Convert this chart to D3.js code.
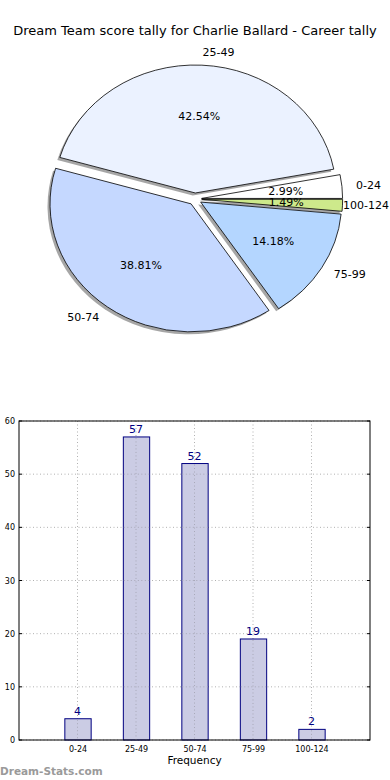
<!DOCTYPE html>
<html><head><meta charset="utf-8">
<script src="https://cdn.jsdelivr.net/npm/d3@7"></script>
<style>body{margin:0;background:#fff;}svg{display:block;font-family:"DejaVu Sans",sans-serif;}</style>
</head><body>
<svg id="c" width="390" height="780"></svg>
<script>
const categories = ["0-24","25-49","50-74","75-99","100-124"];
const counts = [4,57,52,19,2];
const sliceColors = ["#ffffff","#ebf2ff","#c5d8ff","#b4d6ff","#cde98b"];
const yTicks = [0,10,20,30,40,50,60];
const title = "Dream Team score tally for Charlie Ballard - Career tally";

const svg = d3.select("#c");
svg.append("text").attr("x",195).attr("y",35).attr("text-anchor","middle")
  .attr("font-size",13).text(title);

// ---- Pie ----
const cx=195, cy=199, rx=141, ry=128, explode=0.047;
const total=d3.sum(counts);
const pie=d3.pie().sort(null).startAngle(Math.PI/2).endAngle(Math.PI/2-2*Math.PI);
const arcs=pie(counts);
const arc=d3.arc().innerRadius(0).outerRadius(1);
const g=svg.append("g").attr("transform",`translate(${cx},${cy})`);
function mid(a){ const m=(a.startAngle+a.endAngle)/2; return Math.PI/2-m; }
arcs.forEach((a,i)=>{
  const t=mid(a), dx=explode*rx*Math.cos(t), dy=-explode*ry*Math.sin(t);
  g.append("path").attr("d",arc(a))
   .attr("transform",`translate(${dx-2.5},${dy+2.5}) scale(${rx},${ry})`)
   .attr("fill","#888").attr("opacity",0.75);
});
arcs.forEach((a,i)=>{
  const t=mid(a), dx=explode*rx*Math.cos(t), dy=-explode*ry*Math.sin(t);
  g.append("path").attr("d",arc(a))
   .attr("transform",`translate(${dx},${dy}) scale(${rx},${ry})`)
   .attr("fill",sliceColors[i]).attr("stroke","#000").attr("stroke-width",0.8)
   .attr("vector-effect","non-scaling-stroke");
});
arcs.forEach((a,i)=>{
  const t=mid(a), dx=explode*rx*Math.cos(t), dy=-explode*ry*Math.sin(t);
  const pct=(counts[i]/total*100).toFixed(2)+"%";
  g.append("text").attr("x",dx+0.6*rx*Math.cos(t)).attr("y",dy-0.6*ry*Math.sin(t))
   .attr("text-anchor","middle").attr("dominant-baseline","central").attr("font-size",11).text(pct);
  const lx=dx+1.1*rx*Math.cos(t), ly=dy-1.1*ry*Math.sin(t);
  const lab=g.append("text").attr("x",lx).attr("y",ly)
   .attr("text-anchor",Math.cos(t)>=0?"start":"end").attr("dominant-baseline","central")
   .attr("font-size",11).text(categories[i]);
  if(Math.cos(t)>=0){
    const w=lab.node().getComputedTextLength();
    const maxX=389-cx-w;
    if(lx>maxX) lab.attr("x",maxX);
  }
});

// ---- Bar chart ----
const L=19,R=370,T=421,B=740;
const x=d3.scaleLinear().domain([-1,5]).range([L,R]);
const y=d3.scaleLinear().domain([0,60]).range([B,T]);
const bg=svg.append("g");
bg.selectAll(".hg").data(yTicks).enter().append("line")
  .attr("x1",L).attr("x2",R).attr("y1",d=>y(d)).attr("y2",d=>y(d))
  .attr("stroke","#b0b0b0").attr("stroke-dasharray","1,2.5");
bg.selectAll(".vg").data(categories).enter().append("line")
  .attr("x1",(d,i)=>x(i)).attr("x2",(d,i)=>x(i)).attr("y1",T).attr("y2",B)
  .attr("stroke","#b0b0b0").attr("stroke-dasharray","1,2.5");
const bw=0.45;
bg.selectAll(".bar").data(counts).enter().append("rect")
  .attr("x",(d,i)=>x(i-bw/2)+0.5).attr("width",x(bw)-x(0))
  .attr("y",d=>y(d)).attr("height",d=>B-y(d))
  .attr("fill","#cbcce4").attr("stroke","#000080").attr("stroke-width",1);
bg.selectAll(".vg2").data(categories).enter().append("line")
  .attr("x1",(d,i)=>x(i)).attr("x2",(d,i)=>x(i)).attr("y1",(d,i)=>y(counts[i])+1).attr("y2",B)
  .attr("stroke","#a8a8b8").attr("stroke-dasharray","1,2.5");
yTicks.forEach(t=>{ counts.forEach((c,i)=>{ if(c>t && t>0){
  bg.append("line").attr("x1",x(i-bw/2)+1).attr("x2",x(i+bw/2)).attr("y1",y(t)).attr("y2",y(t))
   .attr("stroke","#a8a8b8").attr("stroke-dasharray","1,2.5"); }});});
bg.selectAll(".vl").data(counts).enter().append("text")
  .attr("x",(d,i)=>x(i)).attr("y",d=>y(d)-4).attr("text-anchor","middle")
  .attr("font-size",11).attr("fill","#000080").text(d=>d);
bg.append("rect").attr("x",L).attr("y",T).attr("width",R-L).attr("height",B-T)
  .attr("fill","none").attr("stroke","#000").attr("stroke-width",1);
const yAxis=d3.axisLeft(y).tickValues(yTicks).tickSize(0).tickPadding(4);
const ya=svg.append("g").attr("transform",`translate(${L},0)`).call(yAxis);
ya.select(".domain").remove();
ya.selectAll("text").attr("font-size",8).attr("font-family","DejaVu Sans").attr("fill","#000");
yTicks.forEach(t=>{
  svg.append("line").attr("x1",L).attr("x2",L+3).attr("y1",y(t)).attr("y2",y(t)).attr("stroke","#000");
  svg.append("line").attr("x1",R-3).attr("x2",R).attr("y1",y(t)).attr("y2",y(t)).attr("stroke","#000");
});
const xAxis=d3.axisBottom(x).tickValues(d3.range(categories.length)).tickFormat(i=>categories[i]).tickSize(0).tickPadding(6);
const xa=svg.append("g").attr("transform",`translate(0,${B})`).call(xAxis);
xa.select(".domain").remove();
xa.selectAll("text").attr("font-size",8).attr("font-family","DejaVu Sans").attr("fill","#000");
svg.append("text").attr("x",x(2)).attr("y",764).attr("text-anchor","middle").attr("font-size",10.5).text("Frequency");
svg.append("text").attr("x",0).attr("y",775).attr("font-size",10.5).attr("font-weight","bold")
  .attr("fill","#9a9a9a").text("Dream-Stats.com");
</script>
</body></html>
